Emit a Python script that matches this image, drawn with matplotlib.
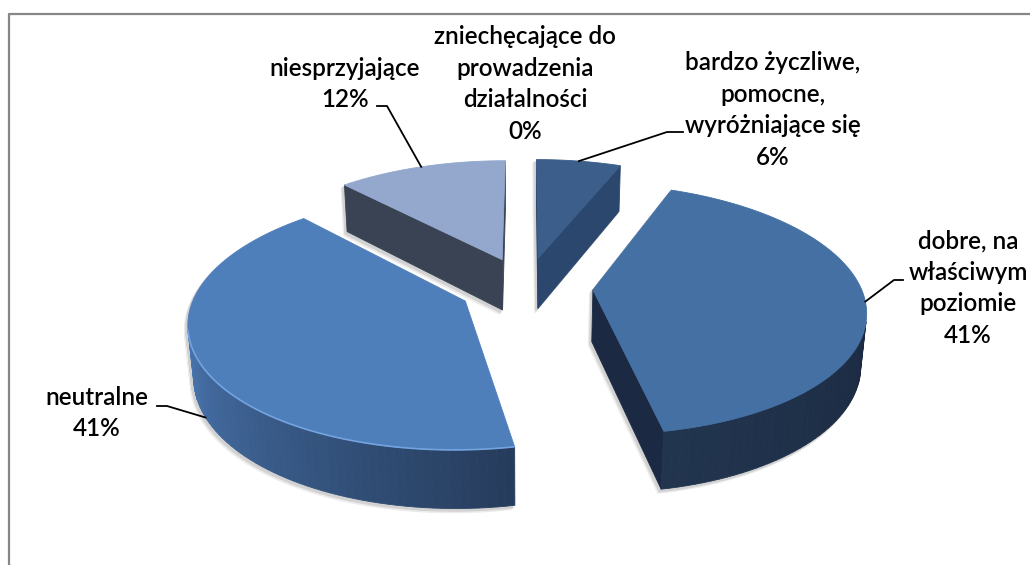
import numpy as np
import matplotlib.pyplot as plt
from matplotlib.patches import Polygon
from matplotlib.colors import to_rgb

# data (clockwise from 12 o'clock)
labels = ['bardzo życzliwe,\npomocne,\nwyróżniające się',
          'dobre, na\nwłaściwym\npoziomie',
          'neutralne',
          'niesprzyjające',
          'zniechęcające do\nprowadzenia\ndziałalności']
values = [6, 41, 41, 12, 0]

top_colors = ['#3B5E8B', '#4470A4', '#4F7FBB', '#94A8CE', '#4F81BD']
wall_dark = ['#2B476E', '#1B2A42', '#263C5C', '#394354', '#2B476E']
wall_light = ['#2B476E', '#22354F', '#4874AD', '#394354', '#2B476E']
rim_colors = [None, None, '#74A4E0', None, None]

# label text centres and leader line points (pixels)
label_pos = [(773, 110), (968, 288), (97, 413), (345, 84), (525, 84)]
leader_start = [(683, 132), (903, 280), (157, 406), (377, 106), None]
leader_knee = [(667, 132), (894, 280), (167, 406), (387, 106), None]
anchor_z = [0.0, 0.0, -1.0, 0.0, 0.0]

# 3d view
R, H, EXPLODE = 1.0, 0.22, 0.25
ELEV = np.radians(27)
DIST, FOCAL = 5.88, 1575
CX, CY = 526, 287
cam = np.array([0, -DIST*np.cos(ELEV), DIST*np.sin(ELEV)])


def project(u, v, z):
    d = DIST + v*np.cos(ELEV) - z*np.sin(ELEV)
    return CX + FOCAL*u/d, CY - FOCAL*(v*np.sin(ELEV) + z*np.cos(ELEV))/d


def facing(normal, point):
    return np.dot(normal, cam - point) > 0


def mix(c1, c2, f):
    a, b = np.array(to_rgb(c1)), np.array(to_rgb(c2))
    return a + (b - a)*f


fig = plt.figure(figsize=(10.3, 5.65), dpi=100)
ax = fig.add_axes([0, 0, 1, 1])
ax.set_xlim(0, 1030)
ax.set_ylim(565, 0)
ax.axis('off')

bounds = np.radians(np.concatenate([[0], np.cumsum(values)]) * 3.6)
slices = []
for i in range(len(values)):
    t1, t2 = bounds[i], bounds[i+1]
    m = (t1 + t2)/2
    slices.append((i, t1, t2, EXPLODE*np.sin(m), EXPLODE*np.cos(m)))

# back slices first
for i, t1, t2, ou, ov in sorted(slices, key=lambda s: -s[4]):
    if t2 - t1 <= 0:
        continue
    ts = np.linspace(t1, t2, 90)
    cu, cv = ou + R*np.sin(ts), ov + R*np.cos(ts)
    faces = []  # (points, colour)

    # radial walls
    for t, sgn in ((t1, -1), (t2, 1)):
        n = np.array([sgn*np.cos(t), -sgn*np.sin(t), 0])
        p = np.array([ou + 0.5*np.sin(t), ov + 0.5*np.cos(t), -H/2])
        if facing(n, p):
            eu, ev = ou + np.sin(t), ov + np.cos(t)
            pts = [project(ou, ov, 0), project(eu, ev, 0),
                   project(eu, ev, -H), project(ou, ov, -H)]
            faces.append((pts, wall_dark[i]))

    # outer wall, in strips for the shading
    vis = []
    for j in range(len(ts) - 1):
        tm = (ts[j] + ts[j+1])/2
        n = np.array([np.sin(tm), np.cos(tm), 0])
        p = np.array([ou + np.sin(tm), ov + np.cos(tm), -H/2])
        if facing(n, p):
            vis.append(j)
    for k, j in enumerate(vis):
        f = k/max(len(vis) - 1, 1)
        col = mix(wall_dark[i], wall_light[i], f)
        pts = [project(cu[j], cv[j], 0), project(cu[j+1], cv[j+1], 0),
               project(cu[j+1], cv[j+1], -H), project(cu[j], cv[j], -H)]
        faces.append((pts, col))

    # top face
    top = [project(ou, ov, 0)] + [project(a, b, 0) for a, b in zip(cu, cv)]
    faces.append((top, top_colors[i]))

    # soft drop shadow, then the slice itself
    for off, sc in ((4, '#ececec'), (2.5, '#d2d2d2')):
        for pts, _ in faces:
            sp = [(x - off*0.8, y + off) for x, y in pts]
            ax.add_patch(Polygon(sp, closed=True, fc=sc, ec=sc, lw=1))
    for pts, col in faces:
        ax.add_patch(Polygon(pts, closed=True, fc=col, ec=col, lw=0.6))

    if rim_colors[i] and vis:
        idx = vis + [vis[-1] + 1]
        rx, ry = project(cu[idx], cv[idx], 0)
        ax.plot(rx, ry, color=rim_colors[i], lw=1.2, solid_capstyle='butt')

# labels
for i, (lab, val) in enumerate(zip(labels, values)):
    x, y = label_pos[i]
    ax.text(x, y, f'{lab}\n{val}%', ha='center', va='center', fontsize=17.5,
            family='Lato', fontweight='semibold', color='black',
            linespacing=1.44)
    if leader_start[i] is None:
        continue
    t1, t2 = bounds[i], bounds[i+1]
    m = (t1 + t2)/2
    ax_, ay_ = project((EXPLODE + R)*np.sin(m), (EXPLODE + R)*np.cos(m),
                       anchor_z[i]*H)
    xs = [leader_start[i][0], leader_knee[i][0], ax_]
    ys = [leader_start[i][1], leader_knee[i][1], ay_]
    ax.plot(xs, ys, color='black', lw=1.3)

# chart frame
ax.plot([9, 9, 1030], [565, 14, 14], color='#878787', lw=1.6)

fig.savefig('out.png', dpi=100)
